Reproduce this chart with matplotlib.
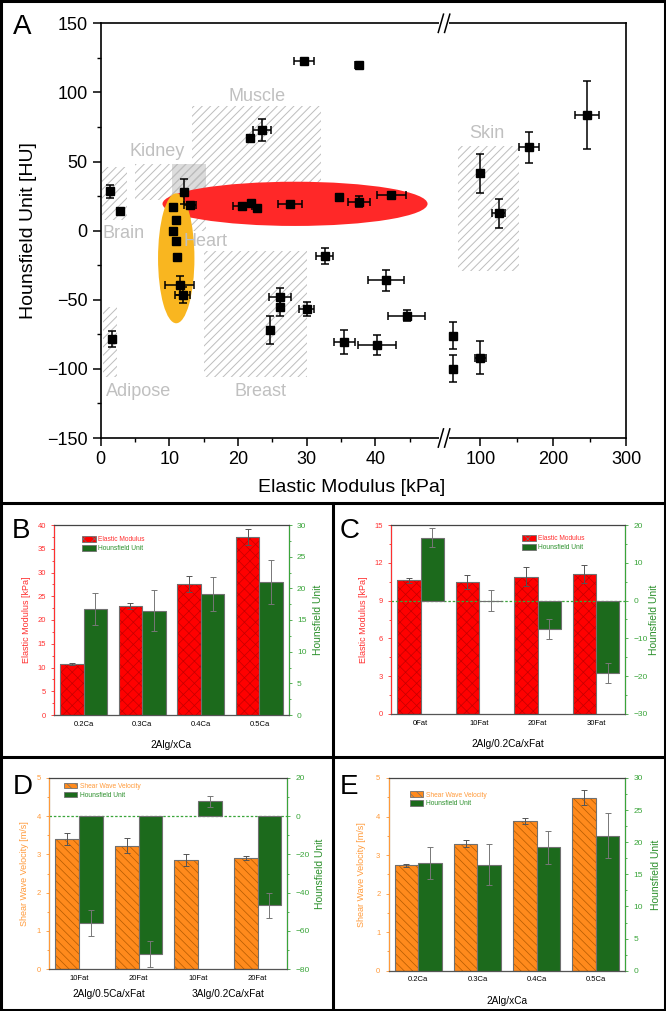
import numpy as np
import matplotlib
matplotlib.use("Agg")
import matplotlib.pyplot as plt
from matplotlib.patches import Rectangle, Ellipse, Patch
from matplotlib.lines import Line2D

plt.rcParams['font.family'] = ['Liberation Sans', 'DejaVu Sans']
plt.rcParams['hatch.linewidth'] = 0.7

# ---- panel A: phantoms, elastic modulus vs HU ----
modulus = [1.3, 2.85, 10.5, 10.96, 10.5, 10.9, 11.1, 11.5, 11.95, 12.1, 13.0,
           20.6, 21.9, 22.8, 21.7, 23.5, 27.6, 29.6, 37.6, 34.7, 37.6, 42.3,
           32.6, 41.5, 44.6, 26.1, 26.1, 30.0, 24.7, 35.5, 40.2, 1.6,
           63, 63, 100, 100, 125, 167, 247]
modulus_err = [0.3, 0.2, 0.3, 0.3, 0.3, 0.3, 0.3, 2.1, 1.1, 0.3, 0.9,
               1.4, 0.3, 0.3, 0.3, 1.25, 1.75, 1.4, 0.5, 0.5, 1.6, 2.1,
               1.3, 2.6, 2.7, 1.6, 0.3, 1.1, 0.3, 1.5, 2.8, 0.3,
               1, 1, 7, 1, 9, 14, 16.5]
hounsfield = [28.5, 14, 16.9, 7.5, 0, -7.5, -19.3, -39.5, -46.5, 28.2, 18.4,
              18, 19.8, 16.4, 67.2, 72.5, 19, 122.7, 119.5, 24.1, 21, 25.5,
              -18.3, -36, -61.7, -47.7, -55.4, -56.8, -72, -80.7, -82.6, -78.5,
              -75.9, -99.8, -92, 41.4, 12.5, 60.2, 83.6]
hounsfield_err = [4.6, 1.5, 2, 2, 2, 2, 2, 7, 6, 9.2, 2,
                  2, 2, 2.5, 2, 8, 2, 1.5, 2, 2.5, 4, 2,
                  6, 7.7, 4, 6, 6, 5, 10, 8.7, 7, 6,
                  9.5, 10, 12, 14, 10.5, 11, 24.5]

tissues = ['Brain', 'Kidney', 'Heart', 'Muscle', 'Skin', 'Breast', 'Adipose']
tissue_e_lo = [0.2, 5.0, 10.35, 13.3, 69, 15.1, 0.3]
tissue_e_hi = [3.8, 15.4, 15.4, 32.1, 153, 30.0, 2.4]
tissue_hu_lo = [8, 22, 0, 25, -29, -105.6, -105.6]
tissue_hu_hi = [46, 48, 48, 90, 61, -14.5, -55]

# ---- panels B-E ----
ca_labels = ['0.2Ca', '0.3Ca', '0.4Ca', '0.5Ca']
fat_labels = ['0Fat', '10Fat', '20Fat', '30Fat']
d_labels = ['10Fat', '20Fat', '10Fat', '20Fat']
d_groups = ['2Alg/0.5Ca/xFat', '3Alg/0.2Ca/xFat']

b_mod = [10.7, 22.9, 27.5, 37.5]
b_mod_err = [0.2, 0.6, 1.7, 1.7]
b_hu = [16.7, 16.5, 19.1, 21.0]
b_hu_err = [2.5, 3.2, 2.7, 3.4]

c_mod = [10.6, 10.5, 10.9, 11.1]
c_mod_err = [0.2, 0.55, 0.75, 0.7]
c_hu = [16.6, 0.0, -7.6, -19.2]
c_hu_err = [2.5, 2.8, 2.6, 2.7]

d_swv = [3.40, 3.23, 2.85, 2.90]
d_swv_err = [0.15, 0.2, 0.15, 0.05]
d_hu = [-55.9, -72.0, 7.8, -46.7]
d_hu_err = [6.7, 6.8, 2.8, 6.6]

e_swv = [2.73, 3.29, 3.88, 4.49]
e_swv_err = [0.05, 0.09, 0.07, 0.2]
e_hu = [16.7, 16.5, 19.2, 21.0]
e_hu_err = [2.5, 3.2, 2.6, 3.5]

W, H = 666, 1011
fig = plt.figure(figsize=(W / 100, H / 100), dpi=100)


def rect(l, t, r, b):
    return [l / W, 1 - b / H, (r - l) / W, (b - t) / H]


# frame lines
def fline(x0, y0, x1, y1):
    fig.add_artist(Line2D([x0 / W, x1 / W], [1 - y0 / H, 1 - y1 / H], color='k', lw=2.2))


fline(1, 1, 665, 1); fline(1, 1010, 665, 1010); fline(1, 1, 1, 1010); fline(665, 1, 665, 1010)
fline(1, 503, 665, 503); fline(1, 757, 665, 757); fline(333, 503, 333, 1010)

# ---------------- panel A ----------------
R = 0.106


def fwd(x):
    x = np.asarray(x, float)
    return np.where(x <= 50, x, 50 + (x - 50) * R)


def inv(y):
    y = np.asarray(y, float)
    return np.where(y <= 50, y, 50 + (y - 50) / R)


ax = fig.add_axes(rect(100.7, 23.3, 626, 438))
ax.set_xscale('function', functions=(fwd, inv))
ax.set_xlim(0, 300)
ax.set_ylim(-150, 150)

hatch_c = '#bdbdbd'
for i, name in enumerate(tissues):
    ax.add_patch(Rectangle((tissue_e_lo[i], tissue_hu_lo[i]),
                           tissue_e_hi[i] - tissue_e_lo[i], tissue_hu_hi[i] - tissue_hu_lo[i],
                           facecolor='none', edgecolor=hatch_c, lw=0, hatch='////', zorder=1))
# kidney / heart overlap looks denser
k, h = tissues.index('Kidney'), tissues.index('Heart')
ox0, ox1 = max(tissue_e_lo[k], tissue_e_lo[h]), min(tissue_e_hi[k], tissue_e_hi[h])
oy0, oy1 = max(tissue_hu_lo[k], tissue_hu_lo[h]), min(tissue_hu_hi[k], tissue_hu_hi[h])
ax.add_patch(Rectangle((ox0, oy0), ox1 - ox0, oy1 - oy0, facecolor='#dcdcdc', lw=0, zorder=0.9))

label_pos = {'Brain': (0.2, -2, 'left'), 'Kidney': (8.2, 57, 'center'),
             'Heart': (12.0, -8, 'left'), 'Muscle': (22.8, 97, 'center'),
             'Skin': (109, 70, 'center'), 'Breast': (23.2, -116, 'center'),
             'Adipose': (0.8, -116, 'left')}
for name in tissues:
    lx, ly, ha = label_pos[name]
    ax.text(lx, ly, name, color='#c0c0c0', fontsize=13, ha=ha, va='center', zorder=5)

ax.add_patch(Ellipse((28.3, 19.4), 38.6, 32, facecolor='#ff2828', lw=0, zorder=3))
ax.add_patch(Ellipse((11.0, -20), 5.3, 94, facecolor='#f9b620', lw=0, zorder=4))

ax.errorbar(modulus, hounsfield, xerr=modulus_err, yerr=hounsfield_err, fmt='s',
            color='k', ms=6, elinewidth=1.1, capsize=3, capthick=1.1, zorder=6)

ax.set_xticks([0, 10, 20, 30, 40, 100, 200, 300])
ax.set_xticklabels(['0', '10', '20', '30', '40', '100', '200', '300'])
ax.set_xticks([5, 15, 25, 35, 45, 150, 250], minor=True)
ax.set_yticks(np.arange(-150, 151, 50))
ax.set_yticks(np.arange(-125, 150, 50), minor=True)
ax.tick_params(which='major', direction='out', length=6, width=1.1, labelsize=13, top=False, right=False)
ax.tick_params(which='minor', direction='out', length=3, width=1.0, top=False, right=False)
for s in ax.spines.values():
    s.set_linewidth(1.2)
ax.set_xlabel('Elastic Modulus [kPa]', fontsize=14)
ax.xaxis.set_label_coords(0.478, -0.1)
ax.set_ylabel('Hounsfield Unit [HU]', fontsize=14)
ax.yaxis.set_label_coords(-0.121, 0.5)

bx = 50 / float(fwd(300))
for yy in (0, 1):
    ax.add_patch(Rectangle((bx - 0.009, yy - 0.006), 0.018, 0.012, transform=ax.transAxes,
                           facecolor='white', lw=0, zorder=10, clip_on=False))
    for dx in (-0.006, 0.006):
        ax.plot([bx + dx - 0.005, bx + dx + 0.005], [yy - 0.022, yy + 0.022], transform=ax.transAxes,
                color='k', lw=1.1, clip_on=False, zorder=11)

fig.text(13 / W, 1 - 33.5 / H, 'A', fontsize=20, ha='left', va='baseline')

# ---------------- bar panels ----------------
plt.rcParams['hatch.linewidth'] = 0.5
RED, RED_H = '#ff0000', '#c40000'
GREEN = '#1c6a1c'
ORANGE, ORANGE_H = '#ff8a1c', '#b35a00'
EDGE = '#707070'
RED_T, GREEN_T, ORANGE_T = '#ff3030', '#3aa53a', '#ff9a3a'


def bar_panel(box, lpos, cats, lv, le, rv, re, lc, lh, lhatch, ltxt, lname,
              lylabel, lylim, lmaj, lmin, rylim, rmaj, rmin, leg_xy, xlabel=None, zero=False):
    a = fig.add_axes(rect(*box))
    a2 = a.twinx()
    x = np.arange(1, len(cats) + 1)
    w = 0.4
    a.bar(x - w / 2, lv, w, color=lc, edgecolor=lh, lw=0, hatch=lhatch, zorder=2)
    a.bar(x - w / 2, lv, w, fill=False, edgecolor=EDGE, lw=0.8, zorder=3)
    a.errorbar(x - w / 2, lv, yerr=le, fmt='none', ecolor='#555555', elinewidth=0.7,
               capsize=2, capthick=0.7, zorder=4)
    if zero:
        a2.axhline(0, color='#3aa53a', ls=(0, (2, 1.5)), lw=0.9, zorder=1)
    a2.bar(x + w / 2, rv, w, color=GREEN, edgecolor=EDGE, lw=0.8, zorder=2)
    a2.errorbar(x + w / 2, rv, yerr=re, fmt='none', ecolor='#777777', elinewidth=0.7,
                capsize=2, capthick=0.7, zorder=4)
    a.set_xlim(0.5, len(cats) + 0.5)
    a.set_xticks(x)
    a.set_xticklabels(cats, fontsize=5.5)
    a.tick_params(axis='x', length=0, pad=4)
    a.set_ylim(*lylim)
    a.set_yticks(lmaj)
    a.set_yticks(lmin, minor=True)
    a2.set_ylim(*rylim)
    a2.set_yticks(rmaj)
    a2.set_yticks(rmin, minor=True)
    a.tick_params(axis='y', which='both', direction='out', colors=ltxt, labelsize=5.5, width=0.6)
    a.tick_params(axis='y', which='major', length=2.5)
    a.tick_params(axis='y', which='minor', length=1.5)
    a2.tick_params(axis='y', which='both', direction='out', colors=GREEN_T, labelsize=6, width=0.6)
    a2.tick_params(axis='y', which='major', length=2.5)
    a2.tick_params(axis='y', which='minor', length=1.5)
    for sp in a2.spines.values():
        sp.set_linewidth(0.8)
    a2.spines['left'].set_color(ltxt)
    a2.spines['right'].set_color(GREEN_T)
    a2.spines['top'].set_color('#444444')
    a2.spines['bottom'].set_color('#555555')
    a.set_ylabel(lylabel, color=ltxt, fontsize=6.5)
    a.yaxis.set_label_coords(lpos[0], 0.5)
    a2.set_ylabel('Hounsfield Unit', color='#2a8f2a', fontsize=7.5)
    a2.yaxis.set_label_coords(lpos[1], 0.5)
    if xlabel:
        a.set_xlabel(xlabel, fontsize=7.3)
        a.xaxis.set_label_coords(0.5, -0.13)
    hl = Patch(facecolor=lc, edgecolor=EDGE, hatch=lhatch, lw=0.6)
    hr = Patch(facecolor=GREEN, edgecolor=EDGE, lw=0.6)
    leg = a2.legend([hl, hr], [lname, 'Hounsfield Unit'], loc='upper left', bbox_to_anchor=leg_xy,
                    frameon=False, fontsize=4.8, handlelength=2.0, handleheight=0.9,
                    labelspacing=0.25, borderpad=0, borderaxespad=0, handletextpad=0.4)
    for t, c in zip(leg.get_texts(), [ltxt, '#2a8f2a']):
        t.set_color(c)
    return a, a2


bar_panel((54.3, 525, 288.7, 715), (-0.1, 1.105), ca_labels, b_mod, b_mod_err, b_hu, b_hu_err,
          RED, RED_H, 'xxx', RED_T, 'Elastic Modulus', 'Elastic Modulus [kPa]',
          (0, 40), np.arange(0, 41, 5), np.arange(2.5, 40, 5), (0, 30), np.arange(0, 31, 5),
          np.arange(2.5, 30, 5), (0.12, 0.94), xlabel='2Alg/xCa')
fig.text(12 / W, 1 - 537.5 / H, 'B', fontsize=20, ha='left', va='baseline')

bar_panel((391.3, 525, 625.3, 714), (-0.1, 1.10), fat_labels, c_mod, c_mod_err, c_hu, c_hu_err,
          RED, RED_H, 'xxx', RED_T, 'Elastic Modulus', 'Elastic Modulus [kPa]',
          (0, 15), np.arange(0, 16, 3), np.arange(1.5, 15, 3), (-30, 20), np.arange(-30, 21, 10),
          np.arange(-25, 20, 10), (0.56, 0.945), xlabel='2Alg/0.2Ca/xFat', zero=True)
fig.text(340 / W, 1 - 537.5 / H, 'C', fontsize=20, ha='left', va='baseline')

ad, _ = bar_panel((49.3, 778, 287.3, 969), (-0.084, 1.116), d_labels, d_swv, d_swv_err, d_hu, d_hu_err,
                  ORANGE, ORANGE_H, '\\\\\\\\', ORANGE_T, 'Shear Wave Velocity', 'Shear Wave Velocity [m/s]',
                  (0, 5), np.arange(0, 6, 1), np.arange(0.5, 5, 1), (-80, 20), np.arange(-80, 21, 20),
                  np.arange(-70, 20, 20), (0.06, 0.975), zero=True)
for gi, g in enumerate(d_groups):
    ad.text(0.25 + 0.5 * gi, -0.13, g, transform=ad.transAxes, fontsize=7.3, ha='center', va='center')
fig.text(13 / W, 1 - 794.5 / H, 'D', fontsize=20, ha='left', va='baseline')

bar_panel((388.7, 778, 625.3, 970.7), (-0.095, 1.11), ca_labels, e_swv, e_swv_err, e_hu, e_hu_err,
          ORANGE, ORANGE_H, '\\\\\\\\', ORANGE_T, 'Shear Wave Velocity', 'Shear Wave Velocity [m/s]',
          (0, 5), np.arange(0, 6, 1), np.arange(0.5, 5, 1), (0, 30), np.arange(0, 31, 5),
          np.arange(2.5, 30, 5), (0.09, 0.93), xlabel='2Alg/xCa')
fig.text(340 / W, 1 - 794.5 / H, 'E', fontsize=20, ha='left', va='baseline')

fig.savefig('out.png', dpi=100)
